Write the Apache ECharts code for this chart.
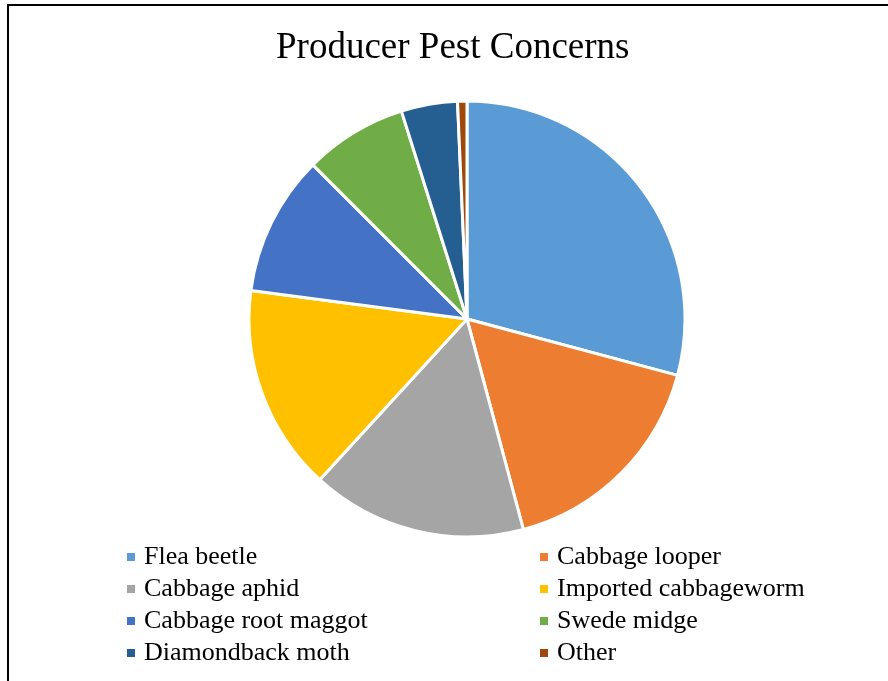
<!DOCTYPE html>
<html>
<head>
<meta charset="utf-8">
<script src="https://cdn.jsdelivr.net/npm/echarts@6/dist/echarts.min.js"></script>
<style>
html,body{margin:0;padding:0;background:#fff;overflow:hidden;}
#frame{position:absolute;left:7px;top:4px;width:900px;height:700px;border-left:2px solid #000;border-top:2px solid #000;}
#chart{position:absolute;left:0;top:0;width:888px;height:681px;}
</style>
</head>
<body>
<div id="frame"></div>
<div id="chart"></div>
<script>
const titleText = 'Producer Pest Concerns';
const categories = ['Flea beetle','Cabbage looper','Cabbage aphid','Imported cabbageworm','Cabbage root maggot','Swede midge','Diamondback moth','Other'];
const values = [42, 24, 23, 22, 15, 11, 6, 1];
const colors = ['#5B9BD5','#ED7D31','#A5A5A5','#FFC000','#4472C4','#70AD47','#255E91','#9E480E'];
const leftLegend = ['Flea beetle','Cabbage aphid','Cabbage root maggot','Diamondback moth'];
const rightLegend = ['Cabbage looper','Imported cabbageworm','Swede midge','Other'];

const font = '"Liberation Serif", "DejaVu Serif", serif';
const legendBase = {
  orient: 'vertical',
  top: 541,
  padding: 0,
  itemGap: 0,
  itemWidth: 10,
  itemHeight: 10,
  icon: 'rect',
  selectedMode: false,
  textStyle: {fontFamily: font, fontSize: 26, lineHeight: 32, color: '#000', padding: [0,0,0,3]}
};
const chart = echarts.init(document.getElementById('chart'));
chart.setOption({
  animation: false,
  color: colors,
  title: {
    text: titleText,
    left: 276,
    top: 30,
    padding: 0,
    textStyle: {fontFamily: font, fontSize: 37, fontWeight: 'normal', color: '#000'}
  },
  legend: [
    Object.assign({}, legendBase, {left: 125, data: leftLegend}),
    Object.assign({}, legendBase, {left: 538, data: rightLegend})
  ],
  series: [{
    type: 'pie',
    center: [467, 319],
    radius: 218,
    startAngle: 90,
    clockwise: true,
    label: {show: false},
    labelLine: {show: false},
    emphasis: {disabled: true},
    itemStyle: {borderColor: '#fff', borderWidth: 3},
    data: categories.map((c, i) => ({name: c, value: values[i]}))
  }]
});
</script>
</body>
</html>
